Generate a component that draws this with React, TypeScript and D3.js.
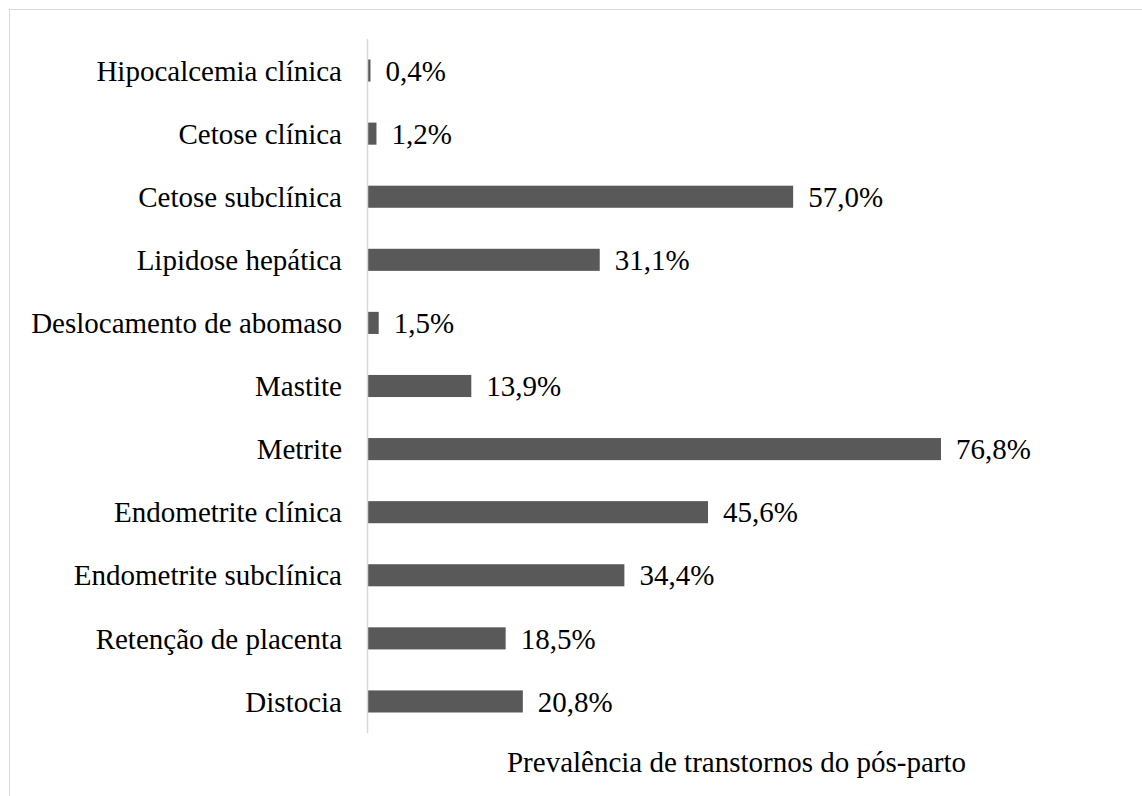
import React from "react";
import * as d3 from "d3";

const categories = [
  "Hipocalcemia clínica",
  "Cetose clínica",
  "Cetose subclínica",
  "Lipidose hepática",
  "Deslocamento de abomaso",
  "Mastite",
  "Metrite",
  "Endometrite clínica",
  "Endometrite subclínica",
  "Retenção de placenta",
  "Distocia",
];
const values = [0.4, 1.2, 57.0, 31.1, 1.5, 13.9, 76.8, 45.6, 34.4, 18.5, 20.8];
const axisTitle = "Prevalência de transtornos do pós-parto";

const W = 1142;
const H = 796;
const x0 = 367.5;
const font = "'Liberation Serif', 'Times New Roman', serif";
const fs = 29;

export default function App() {
  const x = d3.scaleLinear().domain([0, 76.8]).range([x0, 941]);
  const y = d3.scaleBand<string>().domain(categories).range([39, 733]).paddingInner(0.65).paddingOuter(0.325);
  const fmt = (v: number) => v.toFixed(1).replace(".", ",") + "%";
  return (
    <svg width={W} height={H} style={{ position: "absolute", left: 0, top: 0 }}>
      <rect x={0} y={0} width={W} height={H} fill="#fff" />
      <rect x={9.5} y={9.5} width={W + 10} height={H + 10} fill="none" stroke="#d9d9d9" strokeWidth={1} />
      {categories.map((c, i) => (
        <g key={c}>
          <rect x={x(0)} y={y(c)!} width={x(values[i]) - x(0)} height={y.bandwidth()} fill="#595959" />
          <text x={342} y={y(c)! + y.bandwidth() / 2} dy="0.35em" textAnchor="end" fontFamily={font} fontSize={fs} fill="#000">{c}</text>
          <text x={x(values[i]) + 15} y={y(c)! + y.bandwidth() / 2} dy="0.35em" textAnchor="start" fontFamily={font} fontSize={fs} fill="#000">{fmt(values[i])}</text>
        </g>
      ))}
      <line x1={x0} x2={x0} y1={39} y2={733} stroke="#d9d9d9" strokeWidth={1.5} />
      <text x={736.5} y={771.5} textAnchor="middle" fontFamily={font} fontSize={fs} fill="#000">{axisTitle}</text>
    </svg>
  );
}
